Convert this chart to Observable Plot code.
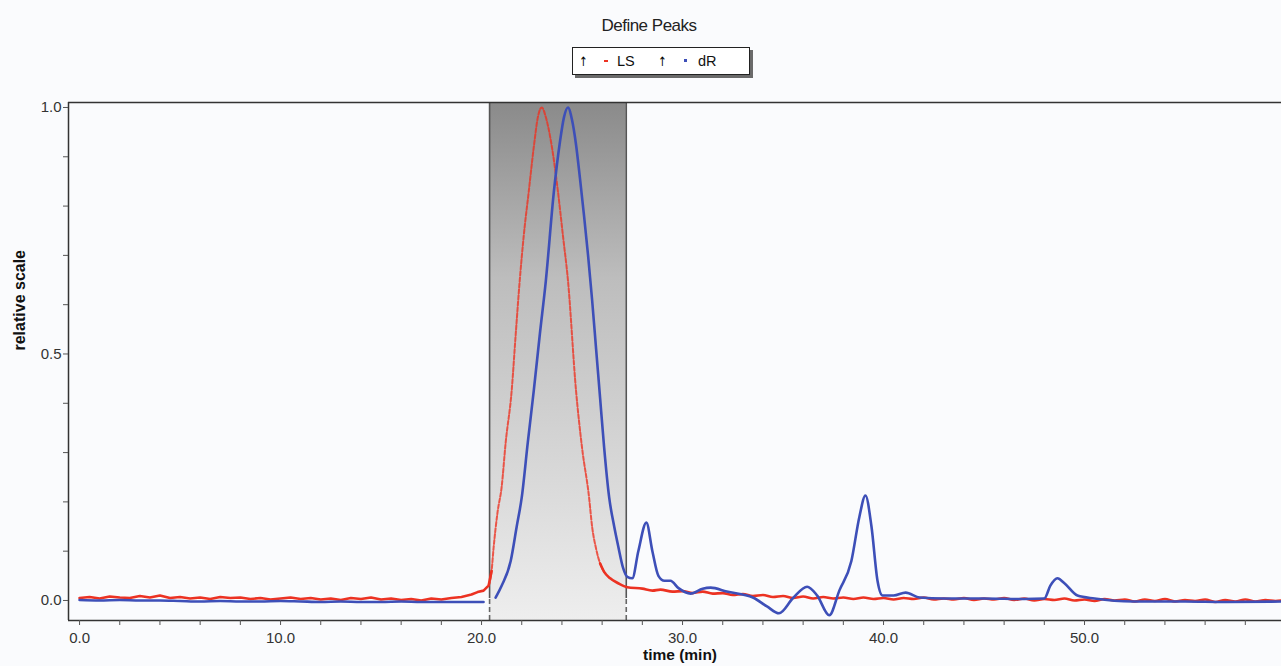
<!DOCTYPE html>
<html><head><meta charset="utf-8">
<script src="https://cdn.jsdelivr.net/npm/d3@7"></script>
<script src="https://cdn.jsdelivr.net/npm/@observablehq/plot@0.6"></script>
<style>
body{margin:0;background:#fafbfd;font-family:"Liberation Sans",Arial,sans-serif;}
#wrap{position:relative;width:1281px;height:666px;overflow:hidden;background:#fafbfd}
#head{position:relative;height:90px}
#title{position:absolute;left:549px;width:200px;top:16px;text-align:center;font-size:17px;color:#222;letter-spacing:-0.5px}
#legend{position:absolute;left:572px;top:47px;width:178px;height:28px;box-sizing:border-box;border:1.5px solid #222;background:#fff;box-shadow:3px 3px 0 #6a6a6a;font-size:14.5px;color:#111}
#legend span{position:absolute;top:5px;line-height:16px}
#legend .arr{font-family:"DejaVu Sans",sans-serif;font-size:13px;color:#000;top:6px;transform:scaleX(0.8)}
.mk{display:inline-block;position:absolute}
</style></head>
<body><div id="wrap">
<div id="head">
  <div id="title">Define Peaks</div>
  <div id="legend"></div>
</div>
<div id="chart"></div>
</div>
<script>
// ---- data ----
const legendNames = ["LS", "dR"];
const seriesColors = ["#ec3222", "#3d4fb8"];
const peakLimits = [20.4, 27.2];
const xTicks = [0,2,4,6,8,10,12,14,16,18,20,22,24,26,28,30,32,34,36,38,40,42,44,46,48,50,52,54,56,58];
const yTicks = [0,0.1,0.2,0.3,0.4,0.5,0.6,0.7,0.8,0.9,1.0];
const xDomain = [-0.55, 59.8];
const yDomain = [-0.0406, 1.0101];

const lsTimes = [0,0.5,1,1.5,2,2.5,3,3.5,4,4.5,5,5.5,6,6.5,7,7.5,8,8.5,9,9.5,10,10.5,11,11.5,12,12.5,13,13.5,14,14.5,15,15.5,16,16.5,17,17.5,18,18.5,19,19.5,19.8,20.1,20.35,
  20.5,20.6,20.8,21.0,21.2,21.5,21.7,21.9,22.1,22.35,22.6,22.8,23.0,23.2,23.5,23.8,24.05,24.3,24.7,25.0,25.35,25.5,25.7,25.9,26.1,26.4,26.8,27.25,
  28,28.5,28.9,29.5,30,30.5,31,31.5,32,32.5,33,33.5,34,34.5,35,35.5,36,36.5,37,37.5,38,38.5,39,39.5,40,40.5,41,41.5,42,42.5,43,43.5,44,44.5,45,45.5,46,46.5,47,47.5,48,48.5,49,49.5,50,50.5,51,51.5,52,52.5,53,53.5,54,54.5,55,55.5,56,56.5,57,57.5,58,58.5,59,59.5,59.8];
const lsValues = [0.005,0.007,0.004,0.008,0.006,0.005,0.009,0.006,0.010,0.005,0.007,0.004,0.006,0.003,0.007,0.005,0.006,0.003,0.005,0.002,0.004,0.006,0.003,0.005,0.002,0.004,0.001,0.005,0.003,0.006,0.002,0.004,0.001,0.003,0.000,0.004,0.002,0.005,0.007,0.012,0.017,0.020,0.030,
  0.060,0.107,0.180,0.230,0.320,0.426,0.540,0.649,0.740,0.830,0.920,0.980,1.000,0.980,0.920,0.830,0.740,0.649,0.426,0.310,0.209,0.150,0.105,0.075,0.058,0.045,0.035,0.027,
  0.024,0.020,0.022,0.018,0.019,0.015,0.018,0.014,0.015,0.011,0.013,0.009,0.011,0.007,0.009,0.005,0.008,0.004,0.007,0.004,0.006,0.003,0.006,0.003,0.005,0.002,0.005,0.003,0.006,0.002,0.004,0.002,0.005,0.001,0.004,0.002,0.005,0.001,0.004,0.000,0.003,0.001,0.004,0.000,0.002,-0.001,0.003,0.000,0.002,-0.002,0.002,-0.001,0.003,-0.002,0.001,-0.001,0.002,-0.003,0.001,-0.002,0.002,-0.002,0.001,-0.001,0.000];

const drTimes = [0,1,2,3,4,5,6,7,8,9,10,11,12,13,14,15,16,17,18,19,20.1,20.4,
  20.7,21.0,21.45,21.75,22.0,22.3,22.6,22.9,23.2,23.6,23.9,24.1,24.3,24.5,24.7,24.9,25.1,25.3,25.5,25.7,25.9,26.1,26.35,26.6,26.8,27.05,27.25,27.5,27.8,28.2,28.5,28.8,29.1,29.4,29.8,30.4,31.0,31.4,32.2,33.5,34.2,34.8,35.5,36.2,36.7,37.3,37.8,38.4,38.8,39.1,39.4,39.7,39.95,40.5,41.1,41.8,43,45,47,48.0,48.3,48.65,49.0,49.65,50.5,52.4,55,57,59.8];
const drValues = [0.001,0.000,0.001,0.000,0.000,-0.001,-0.002,-0.001,-0.002,-0.002,-0.001,-0.002,-0.003,-0.002,-0.003,-0.003,-0.002,-0.003,-0.003,-0.003,-0.003,null,
  0.006,0.030,0.080,0.150,0.209,0.320,0.426,0.540,0.649,0.830,0.930,0.980,1.000,0.975,0.925,0.855,0.780,0.700,0.610,0.510,0.410,0.310,0.209,0.150,0.110,0.065,0.048,0.045,0.100,0.158,0.100,0.050,0.040,0.040,0.025,0.014,0.024,0.026,0.018,0.006,-0.012,-0.026,0.005,0.028,0.010,-0.030,0.020,0.080,0.170,0.213,0.150,0.040,0.010,0.010,0.016,0.006,0.004,0.004,0.003,0.004,0.030,0.045,0.035,0.010,0.004,-0.002,-0.002,-0.003,-0.002];

// ---- tables ----
const ls = lsTimes.map((t, i) => ({t, v: lsValues[i]}));
const dr = drTimes.map((t, i) => ({t, v: drValues[i]}));
const lsSolid1 = ls.filter(d => d.t <= 20.5);
const lsPeak = ls.filter(d => d.t >= 20.35 && d.t <= 26.1);
const lsSolid2 = ls.filter(d => d.t >= 25.9);
const band = [{start: peakLimits[0], end: peakLimits[1]}];

// legend
const lg = document.getElementById("legend");
lg.innerHTML =
  `<span class="arr" style="left:5px">↑</span>` +
  `<span class="mk" style="left:31px;top:12px;width:4px;height:2px;background:${seriesColors[0]}"></span>` +
  `<span style="left:44px">${legendNames[0]}</span>` +
  `<span class="arr" style="left:84px">↑</span>` +
  `<span class="mk" style="left:111px;top:11px;width:3px;height:3px;background:${seriesColors[1]}"></span>` +
  `<span style="left:125px">${legendNames[1]}</span>`;

const fmt = d3.format(".1f");
const chart = Plot.plot({
  width: 1281,
  height: 576,
  marginTop: 12,
  marginBottom: 46,
  marginLeft: 68,
  marginRight: 0,
  style: {background: "#fafbfd", fontFamily: "Liberation Sans, Arial, sans-serif", fontSize: "15px", color: "#333"},
  x: {domain: xDomain},
  y: {domain: yDomain},
  marks: [
    Plot.rect(band, {x1: "start", x2: "end", fill: "url(#bandGrad)"}),
    Plot.ruleX(peakLimits, {y1: 0.004, y2: yDomain[1], stroke: "#555", strokeWidth: 1.6}),
    Plot.ruleX(peakLimits, {y1: yDomain[0], y2: 0.004, stroke: "#666", strokeWidth: 1.6, strokeDasharray: "5,3"}),
    Plot.line(lsSolid1, {x: "t", y: "v", stroke: seriesColors[0], strokeWidth: 2.6}),
    Plot.line(lsSolid2, {x: "t", y: "v", stroke: seriesColors[0], strokeWidth: 2.6, curve: "monotone-x"}),
    Plot.line(lsPeak, {x: "t", y: "v", stroke: seriesColors[0], strokeWidth: 2, strokeDasharray: "4,2", strokeOpacity: 0.8, curve: "monotone-x"}),
    Plot.line(dr, {x: "t", y: "v", stroke: seriesColors[1], strokeWidth: 2.6, curve: "monotone-x"}),
    Plot.ruleX([xDomain[0]], {stroke: "#333", strokeWidth: 1.5}),
    Plot.ruleY([yDomain[0], yDomain[1]], {stroke: "#333", strokeWidth: 1.5}),
    Plot.axisX({ticks: xTicks, tickFormat: d => d % 10 === 0 ? fmt(d) : "", tickSize: 5, tickPadding: 7, label: null, stroke: "#555", fill: "#333"}),
    Plot.axisY({ticks: yTicks, tickFormat: d => Math.round(d * 10) % 5 === 0 ? fmt(d) : "", tickSize: 5, tickPadding: 2, label: null, stroke: "#555", fill: "#333"}),
    Plot.text(["relative scale"], {frameAnchor: "left", text: d => d, rotate: -90, dx: -49, dy: -11, fontWeight: "bold", fontSize: 16, fill: "#111"}),
    Plot.text(["time (min)"], {frameAnchor: "bottom", text: d => d, dx: 5, dy: 39, fontWeight: "bold", fontSize: 15.5, fill: "#111"})
  ]
});
// gradient definition for the peak band
const ns = "http://www.w3.org/2000/svg";
const defs = document.createElementNS(ns, "defs");
defs.innerHTML = `<linearGradient id="bandGrad" x1="0" y1="0" x2="0" y2="1">
  <stop offset="0" stop-color="#8a8a8a"/>
  <stop offset="0.34" stop-color="#bdbdbd"/>
  <stop offset="0.77" stop-color="#dcdcdc"/>
  <stop offset="1" stop-color="#eeeeee"/>
</linearGradient>`;
chart.insertBefore(defs, chart.firstChild);
document.getElementById("chart").appendChild(chart);
</script>
</body></html>
